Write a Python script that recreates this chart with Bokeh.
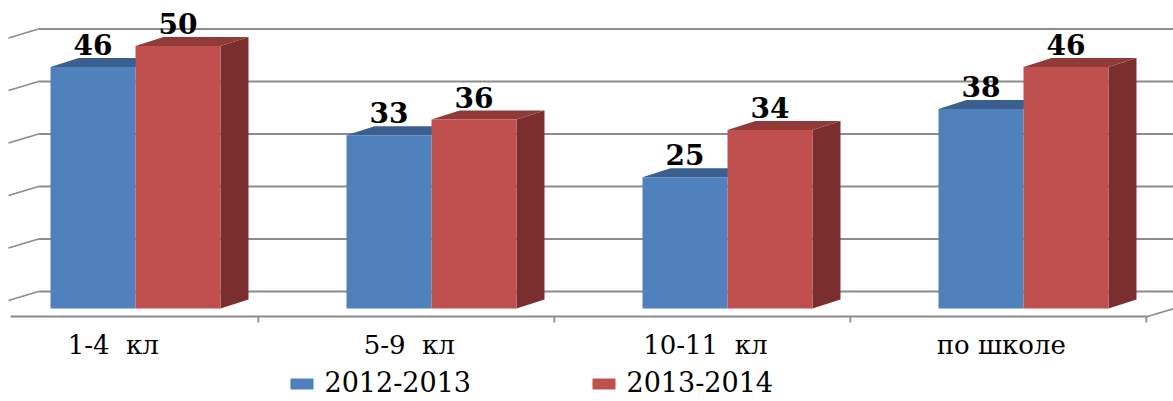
from bokeh.plotting import figure
from bokeh.models import Range1d
from bokeh.embed import file_html
from bokeh.resources import INLINE
from bokeh.core.properties import value

categories = ["1-4 \u00a0кл", "5-9 \u00a0кл", "10-11 \u00a0кл", "по школе"]
series_names = ["2012-2013", "2013-2014"]
vals_2012 = [46, 33, 25, 38]
vals_2013 = [50, 36, 34, 46]
grid_values = [0, 10, 20, 30, 40, 50]

BLUE, BLUE_TOP = "#4F81BD", "#3B6090"
RED, RED_TOP, RED_SIDE = "#C0504D", "#923A38", "#7A2F2E"
GRID = "#8C8C8C"

W, H = 1173, 401
# mapping: image x -> data (x-135)/296 ; image y -> value (308-y)/5.25
PX, PY = 296.0, 5.25
x0 = (0 - 135) / PX
y1 = (308 - 0) / PY
TFIX = 8 / PY  # baseline correction for svg text

p = figure(width=W, height=H, output_backend="svg", toolbar_location=None,
           x_range=Range1d(x0, x0 + W / PX), y_range=Range1d(y1 - H / PY, y1),
           min_border=0, outline_line_color=None)
p.axis.visible = False
p.grid.visible = False
p.background_fill_color = "white"
p.border_fill_color = "white"

bw = 85 / PX          # bar width
dx, dy = 28 / PX, 9 / PY  # depth offset of bars
wy = 17 / PY              # wall offset

# back wall gridlines and side-wall stubs
xl_front = (8 - 135) / PX
xl_back = (38 - 135) / PX
xr = x0 + W / PX + 0.1
for g in grid_values:
    p.line([xl_back, xr], [g + wy, g + wy], line_color=GRID, line_width=1.8)
    p.line([xl_front, xl_back], [g + 8 / PY, g + wy], line_color=GRID, line_width=1.8)

# floor front edge with ticks
n = len(categories)
fy = -8 / PY
fx_end = n - 1 + (1147 - 1023) / PX
p.line([(10 - 135) / PX, fx_end, fx_end + 40 / PX], [fy, fy, fy + 12 / PY],
       line_color=GRID, line_width=1.8)
ticks = [i + 0.415 for i in range(n)]
p.segment(x0=ticks, y0=[fy] * n, x1=ticks, y1=[fy - 6 / PY] * n,
          line_color=GRID, line_width=1.8)

xs = list(range(n))
for i in xs:
    vb, vr = vals_2012[i], vals_2013[i]
    p.patch([i - bw, i, i + dx, i - bw + dx], [vb, vb, vb + dy, vb + dy],
            fill_color=BLUE_TOP, line_color=None)
    p.patch([i + bw, i + bw + dx, i + bw + dx, i + bw], [0, dy, vr + dy, vr],
            fill_color=RED_SIDE, line_color=None)
    p.patch([i, i + bw, i + bw + dx, i + dx], [vr, vr, vr + dy, vr + dy],
            fill_color=RED_TOP, line_color=None)

p.quad(left=[i - bw for i in xs], right=xs, bottom=0, top=vals_2012,
       fill_color=BLUE, line_color=None)
p.quad(left=xs, right=[i + bw for i in xs], bottom=0, top=vals_2013,
       fill_color=RED, line_color=None)

# data labels
lab_off = 14.5 / PY + TFIX
for xsh, vals in ((-bw / 2, vals_2012), (bw / 2, vals_2013)):
    p.text(x=[i + xsh for i in xs], y=[v + lab_off for v in vals],
           text=[str(v) for v in vals], text_align="center", text_baseline="alphabetic",
           text_font=value("DejaVu Serif"), text_font_style="bold", text_font_size="28px",
           text_color="black")

# category labels
p.text(x=[i - 0.075 for i in xs], y=[(308 - 352) / PY + TFIX] * n, text=categories,
       text_align="center", text_baseline="alphabetic",
       text_font=value("DejaVu Serif"), text_font_size="26px", text_color="black")

# legend
ly_base = (308 - 389) / PY
sq_h = 11 / PY
leg_x = [(290 - 135) / PX, (592 - 135) / PX]
sq_w = 23 / PX
p.quad(left=leg_x, right=[x + sq_w for x in leg_x], bottom=[ly_base] * 2,
       top=[ly_base + sq_h] * 2, fill_color=[BLUE, RED], line_color=None)
p.text(x=[x + 34 / PX for x in leg_x], y=[ly_base + TFIX] * 2, text=series_names,
       text_align="left", text_baseline="alphabetic",
       text_font=value("DejaVu Serif"), text_font_size="27px", text_color="black")

open("out.html", "w").write(file_html(p, INLINE))
